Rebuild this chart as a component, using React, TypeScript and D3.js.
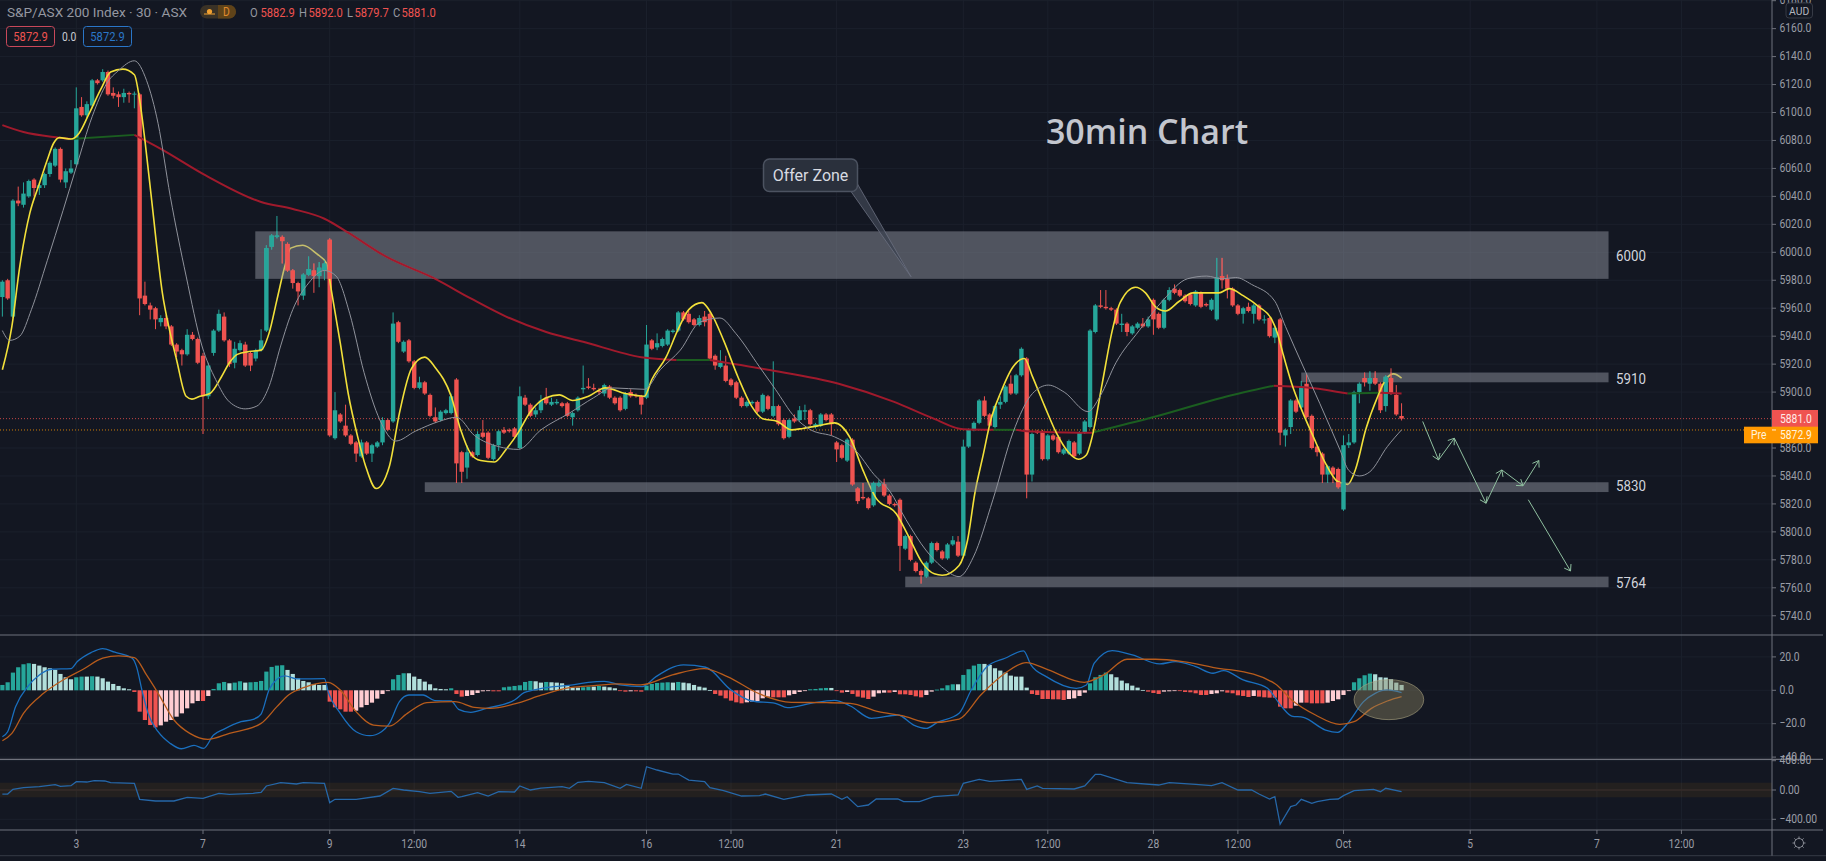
import React from "react";
import * as d3 from "d3";

const opens = [
5968,5980,5954,6037,6034,6040,6052,6046,6048,6056,
6062,6074,6050,6057,6063,6104,6098,6105,6123,6123,
6129,6114,6113,6111,6114,6113,6113,5969,5962,5960,
5950,5953,5947,5934,5930,5927,5941,5938,5926,5897,
5928,5944,5954,5937,5921,5930,5934,5928,5924,5930,
5944,6004,6011,6011,6006,5987,5978,5969,5984,5987,
5983,5987,6009,5867,5884,5876,5869,5864,5854,5864,
5856,5861,5864,5880,5879,5950,5929,5937,5922,5903,
5907,5898,5882,5880,5885,5885,5909,5857,5846,5857,
5855,5871,5871,5852,5862,5873,5873,5874,5860,5896,
5891,5884,5887,5896,5891,5892,5892,5892,5882,5887,
5902,5904,5903,5901,5899,5904,5896,5896,5888,5900,
5898,5897,5896,5937,5932,5933,5934,5943,5944,5957,
5956,5952,5948,5954,5956,5926,5918,5919,5909,5907,
5896,5890,5892,5893,5886,5897,5883,5890,5880,5868,
5881,5880,5886,5887,5875,5876,5884,5884,5864,5862,
5851,5866,5831,5825,5824,5819,5833,5834,5826,5820,
5823,5788,5797,5778,5772,5768,5778,5792,5786,5781,
5791,5793,5783,5861,5873,5878,5894,5884,5875,5891,
5893,5906,5899,5912,5924,5841,5872,5872,5852,5869,
5868,5856,5856,5864,5856,5871,5875,5943,5962,5961,
5960,5959,5948,5949,5942,5946,5949,5947,5966,5956,
5946,5966,5974,5973,5969,5970,5962,5971,5963,5959,
5952,5983,5981,5974,5962,5956,5961,5956,5962,5952,
5953,5939,5952,5869,5875,5894,5889,5906,5883,5861,
5856,5841,5846,5845,5816,5862,5864,5900,5910,5906,
5910,5906,5890,5910,5898,5882.9];

const closes = [
5979,5967,6037,6035,6042,6051,6046,6048,6056,6064,
6074,6052,6058,6060,6103,6098,6106,6123,6121,6129,
6113,6112,6111,6114,6113,6113.5,5967,5963,5959,5952,
5953,5947,5934,5929,5927,5941,5938,5921,5897,5919,
5944,5956,5937,5920,5931,5935,5919,5919,5930,5937,
6003,6012,6012,6008,5987,5978,5972,5984,5988,5983,
5989,5992,5869,5887,5879,5869,5863,5856,5864,5856,
5862,5864,5880,5873,5949,5936,5936,5922,5903,5907,
5899,5883,5879,5886,5887,5897,5849,5843,5857,5854,
5870,5868,5853,5862,5872,5871,5872,5868,5897,5891,
5883,5887,5894,5892,5893,5893,5890,5883,5885,5896,
5903,5903,5902,5900,5905,5896,5892,5887,5899,5897,
5897,5891,5934,5931,5935,5938,5944,5944,5957,5952,
5950,5948,5953,5950,5924,5919,5921,5908,5905,5896,
5890,5893,5893,5886,5898,5888,5890,5877,5867,5880,
5879,5887,5887,5877,5877,5884,5880,5877,5859,5853,
5866,5834,5822,5824,5817,5835,5835,5826,5820,5819,
5790,5797,5780,5772,5769,5778,5792,5787,5781,5791,
5794,5783,5861,5873,5878,5894,5883,5876,5890,5893,
5904,5899,5912,5931,5841,5870,5871,5852,5869,5866,
5857,5859,5865,5854,5871,5879,5944,5962,5961,5960,
5959,5949,5949,5943,5947,5949,5947,5952,5952,5946,
5966,5973,5971,5969,5965,5963,5972,5961,5962,5966,
5982,5980,5974,5962,5956,5960,5958,5962,5952,5952,
5940,5946,5871,5873,5894,5886,5904,5882,5860,5857,
5841,5847,5841,5832,5862,5864,5900,5906,5907,5910,
5906,5887,5911,5899,5884,5881];

const highs = [
5980,5981,6038,6047,6050,6052,6053,6050,6057,6065,
6075,6075,6060,6066,6118,6111,6108,6124,6124,6131,
6130,6118,6115,6117,6115,6115,6114,5979,5964,5961,
5955,5955,5948,5935,5931,5945,5943,5939,5928,5921,
5945,5959,5957,5938,5936,5937,5936,5929,5931,5945,
6005,6013,6026,6012,6007,5988,5979,5985,5997,5992,
5993,5994,6010,5900,5885,5891,5870,5865,5866,5865,
5863,5865,5882,5881,5957,5951,5937,5938,5923,5911,
5908,5899,5889,5887,5888,5899,5910,5858,5862,5858,
5872,5880,5872,5863,5873,5875,5874,5875,5904,5898,
5892,5889,5898,5903,5896,5895,5893,5893,5886,5897,
5919,5910,5906,5903,5906,5905,5897,5897,5900,5902,
5899,5898,5948,5938,5942,5939,5945,5945,5958,5958,
5958,5953,5955,5958,5957,5927,5930,5926,5910,5908,
5897,5894,5894,5894,5899,5898,5922,5891,5881,5881,
5884,5890,5891,5888,5878,5885,5885,5885,5865,5863,
5867,5867,5832,5835,5825,5836,5837,5838,5827,5821,
5824,5798,5798,5779,5773,5779,5793,5793,5787,5792,
5797,5797,5866,5874,5879,5895,5897,5885,5891,5897,
5905,5912,5913,5932,5925,5871,5873,5873,5870,5870,
5869,5860,5866,5865,5872,5880,5945,5963,5973,5973,
5961,5960,5956,5950,5948,5950,5953,5954,5967,5957,
5967,5975,5977,5974,5970,5971,5973,5972,5964,5967,
5996,5996,5984,5975,5963,5961,5964,5963,5963,5955,
5954,5947,5953,5874,5895,5895,5908,5913,5884,5862,
5857,5848,5847,5846,5869,5870,5901,5907,5914,5915,
5915,5907,5912,5917,5905,5892];

const lows = [
5954,5966,5953,6033,6032,6039,6040,6041,6046,6054,
6061,6050,6046,6056,6062,6097,6096,6103,6120,6122,
6112,6110,6104,6107,6107,6103,5955,5962,5952,5945,
5947,5945,5933,5925,5919,5926,5937,5920,5870,5895,
5926,5943,5936,5918,5917,5929,5918,5915,5922,5929,
5943,6002,6010,5992,5986,5974,5962,5966,5983,5971,
5975,5980,5868,5866,5878,5868,5862,5850,5853,5855,
5850,5860,5862,5872,5878,5935,5928,5921,5902,5902,
5898,5882,5878,5879,5884,5884,5835,5835,5838,5853,
5854,5867,5852,5851,5858,5870,5871,5867,5859,5890,
5882,5882,5885,5891,5890,5891,5889,5882,5876,5886,
5899,5902,5901,5898,5897,5895,5891,5886,5887,5896,
5896,5884,5895,5930,5930,5932,5933,5942,5943,5951,
5949,5947,5947,5947,5923,5916,5917,5907,5904,5895,
5889,5889,5891,5885,5885,5887,5882,5876,5866,5867,
5878,5879,5880,5876,5874,5875,5879,5869,5850,5852,
5850,5833,5820,5823,5816,5818,5832,5825,5819,5818,
5772,5787,5779,5771,5763,5767,5777,5786,5780,5780,
5790,5782,5782,5860,5872,5877,5882,5875,5874,5888,
5892,5898,5898,5911,5824,5836,5870,5851,5851,5865,
5856,5855,5855,5853,5855,5870,5874,5942,5960,5959,
5958,5948,5943,5940,5941,5945,5946,5946,5941,5945,
5945,5965,5970,5968,5964,5962,5961,5960,5961,5958,
5951,5974,5967,5961,5955,5949,5957,5949,5951,5949,
5939,5935,5862,5861,5870,5885,5888,5881,5859,5854,
5835,5835,5835,5831,5815,5860,5863,5892,5904,5901,
5905,5885,5886,5898,5883,5879.7];

const hist = [
3.2,4.8,10.6,13.8,15.6,16.2,15.8,14.8,13.8,13.2,
12.2,9.8,7.8,6.6,7.8,8.2,8.2,8.4,8.2,7.2,
5.2,3.8,2.6,1.2,0.6,-1,-12.8,-17.8,-20.8,-22.2,
-21,-18.8,-17.8,-15.8,-13.8,-10.8,-7.8,-6.4,-6.4,-3.4,
0.8,4.2,5,4.2,4.6,5.4,4.6,4.8,5,5.6,
11.2,14,14.8,15,12.2,9.8,7.2,5.6,4.8,3.8,
3.2,3.2,-6.8,-10.2,-11.4,-12.8,-12.8,-12.2,-10.2,-8.8,
-7.4,-5,-2.2,-0.4,6.6,9.2,10.2,10.2,8.2,6.8,
5.2,3.6,1.2,0.8,0.6,1.2,-2.2,-3.8,-3.4,-2.8,
-1.6,-0.6,-0.4,-0.6,-0.6,1.8,2.2,2.6,3,5,
5.6,5.4,4.6,5,4.8,4.6,4.2,3.2,1.6,1.6,
1.8,2.2,2.2,2.6,2.2,1.8,1.2,-0.2,-0.8,-0.6,
-0.6,-0.8,2.8,3.8,4.4,4.6,4.8,4.6,5,4.6,
4.2,3.2,2.2,1.6,0.2,-2.2,-3.2,-4.8,-6.2,-7.2,
-7.8,-7.2,-6.8,-6.4,-4.8,-3.8,-4.2,-4.2,-4.2,-3,
-2.2,-1,-0.4,0.6,0.8,1.2,1.4,1.4,-0.4,-1.4,
-1,-2.2,-3.8,-4.4,-5.2,-3.8,-1.8,-1.4,-1.4,-1,
-2.4,-2.4,-2.8,-3.6,-4.2,-2.8,-0.8,0.4,1.2,3,
3.6,3.6,9.2,12.6,14.8,15.8,15.8,15.2,13.2,11.8,
10.6,8.8,8.2,8.2,1.6,-2.2,-2.8,-5.2,-5.2,-5.4,
-5.4,-5.8,-5.2,-4.8,-3.4,-1.4,4.2,7.8,9.2,10.6,
9.6,7.8,5.8,4.2,2.8,1.6,0.2,-0.8,-1.6,-2.2,
-0.8,-0.6,-0.2,-0.4,-1,-1.2,-1.8,-2.8,-2.8,-2.2,
-1.8,-0.6,-1.4,-1.8,-3,-3.4,-4,-3.4,-3.8,-4.2,
-4.4,-4.4,-9.8,-10.8,-10.8,-9.2,-7.4,-7.4,-7.8,-7.8,
-7.8,-7.4,-6.4,-5.4,-2.8,-0.2,4.8,7.2,9,10,
9.6,7.8,7.6,6.6,4.6,3.2];

const yellowK = [0,1.8,3.3,5.2,7,8.5,9.7,10.8,13,14.5,16.4,18.7,20.5,22.8,25,26,27,28.4,30.3,31.8,33,34.8,35.9,37.4,39.3,41.5,43,44.5,46.7,49,50.5,52,53.5,54.6,56.9,59.5,61.4,62.3,64,65.5,67.3,68.8,70.8,73.3,75.2,77.5,80,81.9,85,86.8,88.7,90.6,93.2,95.4,97.7,100,103,105.5,108,111,114.2,118,121.6,123,125.7,128,130,132.5,134.3,136.6,139.3,141.9,144,146.8,149.4,151.6,154.6,157.6,160.6,163,165.5,169.3,171.6,174.2,176.5,178,181.2,182.8,184.2,185.7,187.2,189,191.4,193.6,195,197.4,199.6,201.9,203.8,205.3,206.4,208.3,210.2,211.7,214.6,216.5,218.4,220.3,222.9,225.5,228,230.4,232.4,235,238,240.4,241.5,242.5,244.2,246,248.3,250.6,252.9,254.8,256.3,258.2,260.5,262,263.5,265];
const yellowV = [5916,5947,5990,6028,6049,6066,6078,6082,6081,6085,6099,6117,6129,6131,6127,6109,6080,6033,5971,5942,5923,5897,5895,5897,5899,5911,5921,5927,5929,5930,5942,5966,5990,6003,6005,5999,5992,5973,5935,5899,5868,5847,5831,5847,5885,5917,5925,5918,5897,5873,5856,5851,5850,5859,5871,5886,5896,5898,5894,5897,5903,5899,5897,5909,5925,5945,5959,5964,5956,5937,5911,5890,5881,5879,5873,5874,5876,5878,5867,5844,5824,5813,5797,5778,5770,5769,5776,5794,5828,5854,5880,5899,5918,5924,5912,5890,5871,5857,5852,5855,5868,5906,5944,5964,5975,5971,5961,5958,5965,5971,5971,5971,5974,5969,5961,5952,5942,5928,5906,5888,5868,5849,5836,5834,5845,5873,5897,5909,5913,5910];

const greyK = [0,1.4,3.3,5.5,8.5,11.5,14,17,19.8,22,25,27.3,29.5,31.8,34.8,37.8,40.4,43,46,48.2,50.5,52.7,55,58,61,63.2,65.8,68.5,71.5,74.5,78.2,82.7,86,89.4,94,97.7,102,107.4,112,115.6,121.6,124.6,128.4,132.1,135.9,138.9,143.4,146.4,150.1,153.1,157.6,161.4,165.1,168.1,171.1,174.9,177.9,181.2,183.9,187.6,191.4,195.1,198.1,201.1,205.6,207.9,210.9,215.3,219.9,224.4,228.1,231,233.6,236.6,241,243,246.4,249.5,253.3,255,257,259,262.3,265];
const greyV = [5944,5937,5940,5959,5994,6030,6061,6097,6121,6130,6137,6123,6092,6040,5983,5933,5909,5893,5888,5890,5904,5933,5959,5978,5987,5983,5956,5914,5880,5865,5872,5879,5882,5869,5861,5859,5873,5885,5896,5903,5902,5916,5930,5950,5953,5942,5918,5902,5882,5873,5868,5859,5841,5829,5809,5787,5775,5768,5782,5823,5871,5899,5905,5900,5886,5897,5921,5944,5966,5981,5983,5981,5982,5977,5965,5947,5918,5892,5859,5844,5840,5843,5861,5873];

const maK = [0,4,10.8,13,25,30,38.5,49,55,61,65.5,72.6,82,88.7,95.4,103,110,121,127.7,134,145,158.4,168.9,176.4,182,187.7,192,194,204,206.4,218.4,231,240.8,248,254.8,261,265];
const maV = [6091,6086,6082,6081,6084,6074,6055,6036,6031,6024,6014,5997,5981,5967,5954,5943,5936,5925,5923,5923,5916,5906,5893,5881,5873.4,5873,5873,5872,5871,5871,5882.5,5896,5904.6,5903,5899,5899.6,5899];
const maGreen = [[13,25],[127.7,134],[187.7,192],[206.4,240.8],[254.8,261]];

const macdK = [0,1,2.5,4.8,7,9.3,13,14.2,16.8,19,21.3,24.6,25.4,26.5,27.6,29.5,31.8,33.9,36.3,38.1,40,41.9,45.2,47.5,49,50.5,52,53.5,55.8,61,61.7,64,67,69.6,71.8,73.3,75.2,77,79.7,81.9,85,86.4,88.7,91.7,97,98.8,100.7,104.4,108,111,114,117,121.2,123.8,129,133.2,138,141.9,146.4,148.7,153.1,157.6,160.6,164.6,169.6,172.6,175,177,181.2,183.5,186.5,189.9,193.4,194.8,197.7,203.4,205.3,206.8,210.2,214,219.2,222.2,226,229.3,231.3,235,239.6,242.3,244.2,246.4,250.6,252.9,254.8,257.8,260,262.3,265];
const macdV = [-27.8,-24.8,-9.8,2.2,9.2,12.6,13,17.2,22.6,25,22.8,19.2,14.2,-0.8,-13.8,-24.8,-31.8,-35,-33,-34.8,-26.8,-23.4,-18.8,-17.4,-14.2,0.2,6.6,8.6,6.8,7,-0.8,-13.8,-24.8,-27.2,-24.8,-19.8,-6.8,-2.8,-2.8,-6.2,-6.4,-11.4,-13.2,-10.8,-5.8,-1.4,0.2,2.2,3.2,4.8,5.4,3.2,2.2,8.2,15.2,13.8,0.2,-6.4,-7.8,-10.4,-7.8,-6,-9.4,-16.8,-14.8,-20.8,-22.8,-19.4,-13.8,0.2,14.2,19.2,23.6,15.2,8.2,1.2,3.2,16.2,23.8,21.2,15.8,17.2,14.2,10.2,11.8,6.2,1.2,-9.8,-15.4,-16.2,-23.8,-25.2,-19.8,-6.8,-1.8,0.2,-1.4];

const signalK = [0,1.8,4,7.8,11.5,15.3,19,22,25,27.3,29.5,32.5,35.5,38.9,43,49,52,54.2,57.2,61.7,64,67,70.3,73.3,76.7,80.4,85.7,89.4,92.4,97,102.2,106.7,112,117,120.9,126.9,132.9,137.3,143.4,149.4,156.1,160.6,165.9,170.4,175.6,181.2,185.3,189.9,193.9,198.1,204.9,208.6,213,218.4,223.6,231,232.8,241.1,244.2,248.7,253.3,256,259.3,262.3,265];
const signalV = [-30.2,-25.8,-13.8,-1.8,6.2,12.6,19.2,20.6,19.6,9.2,-1.8,-17.8,-25.8,-29.4,-25.8,-19.8,-9.8,-2.8,1.8,4.8,0.2,-12.8,-20.8,-21.4,-13.8,-7.4,-6.8,-10.2,-10.8,-8.2,-2.8,1.2,2.8,3.8,3.2,9.2,13,8.2,-2.2,-7.2,-7.4,-7.8,-12.8,-15.2,-19.4,-17.2,-2.8,10.2,16.6,12.2,4.8,9.2,18.6,18.6,17.2,12.8,12.2,3.8,-5.8,-14.8,-20.4,-18.8,-10.8,-6.4,-3.8];

const cciK = [0,1,2,4,7,10,11,13,14,16,17.4,19.4,20.5,25,26,29,32.5,35,38,41,43,47.5,49,50,52.7,55.7,57,61,62,63,67,71.5,74,76,79,81,85,86.3,87,90,92,94,97,98,100,102,106,107.4,109,111,114,117,118.2,121,122,124,127,128,130,133,134,136.6,140,143.4,144.5,148,152.4,157,159,160,162,164,165.5,169.6,170.7,173.7,176.4,181,182,185,187,193,194,196,197,203,205,207,208,213,219,221,226,229,231,234,236.6,238,240,241,242,244,245,246,248,249,251.4,253,254,256,259.7,261,262,265];
const cciV = [-55,-55,9,32,45,73,50,59,114,109,127,123,100,91,-127,-150,-150,-100,-114,-45,-59,-45,-32,55,100,82,100,91,-173,-127,-127,-82,23,0,-23,-45,-18,-100,-91,-36,-82,-23,-27,55,0,27,45,23,105,118,100,23,77,23,318,273,218,218,136,114,32,-9,-82,-77,-55,-127,-68,-55,-127,-91,-227,-205,-123,-123,-159,-159,-91,-68,91,145,118,145,9,55,23,14,55,214,214,100,68,100,77,59,100,0,0,-55,-123,-91,-468,-227,-205,-127,-182,-159,-127,-123,-77,-9,9,-23,23,-23];

const priceTicks = [6180,6160,6140,6120,6100,6080,6060,6040,6020,6000,5980,5960,5940,5920,5900,5860,5840,5820,5800,5780,5760,5740];
const macdTicks = [20,0,-20,-40];
const macdTickLabels = ["20.0","0.0","−20.0","−40.0"];
const cciTicks = [400,0,-400];
const cciTickLabels = ["400.00","0.00","−400.00"];
const timeK = [14,38,62,78,98,122,138,158,182,198,218,234,254,278,302,318];
const timeLabels = ["3","7","9","12:00","14","16","12:00","21","23","12:00","28","12:00","Oct","5","7","12:00"];

const zones = [
  { from: 47.9, to: 304.2, top: 6015, bottom: 5981 },
  { from: 246, to: 304.2, top: 5914, bottom: 5907 },
  { from: 80, to: 304.2, top: 5835.5, bottom: 5828.5 },
  { from: 171, to: 304.2, top: 5768, bottom: 5760.4 },
];
const zoneLabels = [
  { text: "6000", price: 5997 },
  { text: "5910", price: 5909 },
  { text: "5830", price: 5832.5 },
  { text: "5764", price: 5763.5 },
];
const pathK = [[269,272,275],[275,281,284,288,291],[289,297]];
const pathV = [[5879,5851.5,5867],[5867,5820.5,5844.3,5833,5851],[5823,5772]];

const W = 1826, H = 861;
const AXIS_X = 1772, PANE1 = 635, PANE2 = 759.3, PANE3 = 830, BOTTOM = 855.7;
const BG = "#131722", GRID = "#1b202c", TEAL = "#26a69a", RED = "#ef5350";
const FONT = "Roboto, 'Open Sans', sans-serif";

const x = d3.scaleLinear().domain([0, 265]).range([2.37, 2.37 + 5.28 * 265]);
const y = d3.scaleLinear().domain([6000, 5760]).range([252.3, 587.8]);
const ym = d3.scaleLinear().domain([0, -20]).range([690.3, 723.7]);
const yc = d3.scaleLinear().domain([0, 400]).range([790, 760.7]);

function T(props: any) {
  const { x: tx, y: ty, sx = 0.86, children, ...rest } = props;
  return (
    <text transform={`translate(${tx},${ty}) scale(${sx},1)`} fontFamily={FONT} dominantBaseline="central" {...rest}>
      {children}
    </text>
  );
}

function linePath(ks: number[], vs: number[], ys: any, curve: any = d3.curveMonotoneX) {
  const idx = d3.range(ks.length);
  return d3.line<number>().x((i) => x(ks[i])).y((i) => ys(vs[i])).curve(curve)(idx) as string;
}

function maGroups() {
  const groups: { green: boolean; ks: number[]; vs: number[] }[] = [];
  for (let i = 0; i < maK.length - 1; i++) {
    const mid = (maK[i] + maK[i + 1]) / 2;
    const green = maGreen.some(([a, b]) => mid >= a && mid <= b);
    const last = groups[groups.length - 1];
    if (last && last.green === green) {
      last.ks.push(maK[i + 1]);
      last.vs.push(maV[i + 1]);
    } else {
      groups.push({ green, ks: [maK[i], maK[i + 1]], vs: [maV[i], maV[i + 1]] });
    }
  }
  return groups;
}

function histColor(i: number) {
  const prev = i > 0 ? hist[i - 1] : 0;
  const v = hist[i];
  if (v >= 0) return prev < v ? "#26a69a" : "#b2dfdb";
  return prev < v ? "#ffcdd2" : "#ef5350";
}

function Candles() {
  return (
    <g>
      {opens.map((o, i) => {
        const c = closes[i];
        const col = c >= o ? TEAL : RED;
        const top = y(Math.max(o, c));
        const bot = y(Math.min(o, c));
        return (
          <g key={i}>
            <line x1={x(i)} x2={x(i)} y1={y(highs[i])} y2={y(lows[i])} stroke={col} />
            <rect x={x(i) - 2.2} width={4.4} y={top} height={Math.max(1, bot - top)} fill={col} />
          </g>
        );
      })}
    </g>
  );
}

function MovingAverage() {
  return (
    <g>
      {maGroups().map((g, i) => (
        <path key={i} d={linePath(g.ks, g.vs, y)} fill="none" stroke={g.green ? "#1b5e20" : "#a01a2c"} strokeWidth={2} />
      ))}
    </g>
  );
}

export default function App() {
  const arrowColor = "#8fbf9f";
  return (
    <svg width={W} height={H} style={{ position: "fixed", left: 0, top: 0, background: BG, display: "block" }}>
      <style>{"body{margin:0;overflow:hidden;background:#131722}"}</style>
      <defs>
        <clipPath id="zoneClip">
          {zones.map((z, i) => (
            <rect key={i} x={x(z.from)} width={x(z.to) - x(z.from)} y={y(z.top)} height={y(z.bottom) - y(z.top)} />
          ))}
        </clipPath>
      </defs>
      <rect width={W} height={H} fill={BG} />

      {/* grid */}
      {priceTicks.map((p) => <line key={p} x1={0} x2={AXIS_X} y1={y(p)} y2={y(p)} stroke={GRID} />)}
      {macdTicks.map((p) => <line key={p} x1={0} x2={AXIS_X} y1={ym(p)} y2={ym(p)} stroke={GRID} />)}
      {cciTicks.map((p) => <line key={p} x1={0} x2={AXIS_X} y1={yc(p)} y2={yc(p)} stroke={GRID} />)}
      {timeK.map((k) => <line key={k} x1={x(k)} x2={x(k)} y1={0} y2={PANE3} stroke={GRID} />)}

      {/* CCI band */}
      <rect x={0} width={AXIS_X} y={yc(100)} height={yc(-100) - yc(100)} fill="#ff9800" opacity={0.07} />
      <line x1={0} x2={AXIS_X} y1={yc(0)} y2={yc(0)} stroke="#3a2c28" />

      {/* last price lines */}
      <line x1={0} x2={AXIS_X} y1={y(5881)} y2={y(5881)} stroke="#ef5350" strokeDasharray="1 2" opacity={0.8} />
      <line x1={0} x2={AXIS_X} y1={y(5872.9)} y2={y(5872.9)} stroke="#ff9800" strokeDasharray="1 2" opacity={0.8} />

      <Candles />
      <MovingAverage />
      <path d={linePath(yellowK, yellowV, y)} fill="none" stroke="#f2e03a" strokeWidth={1.6} />

      {/* translucent zones over the yellow line; candles and the long average stay bright inside them */}
      {zones.map((z, i) => (
        <rect key={i} x={x(z.from)} width={x(z.to) - x(z.from)} y={y(z.top)} height={y(z.bottom) - y(z.top)} fill="#969aa4" fillOpacity={0.466} />
      ))}
      <g clipPath="url(#zoneClip)">
        <Candles />
        <MovingAverage />
      </g>
      <path d={linePath(greyK, greyV, y)} fill="none" stroke="#8f929b" strokeWidth={1} />

      {zoneLabels.map((l) => (
        <T key={l.text} x={1616} y={y(l.price)} fontSize={15.5} fill="#d1d4dc">{l.text}</T>
      ))}

      {/* arrows */}
      {pathK.map((ks, pi) => {
        const vs = pathV[pi];
        return (
          <g key={pi} fill="none" stroke={arrowColor} strokeWidth={1}>
            <path d={linePath(ks, vs, y, d3.curveLinear)} />
            {ks.slice(1).map((k, j) => {
              const ax = x(k), ay = y(vs[j + 1]);
              const a = Math.atan2(ay - y(vs[j]), ax - x(ks[j]));
              const s = 7;
              const p1 = [ax - s * Math.cos(a - 0.6), ay - s * Math.sin(a - 0.6)];
              const p2 = [ax - s * Math.cos(a + 0.6), ay - s * Math.sin(a + 0.6)];
              return <path key={j} d={`M${p1[0]},${p1[1]}L${ax},${ay}L${p2[0]},${p2[1]}`} />;
            })}
          </g>
        );
      })}

      {/* callout */}
      <path
        d={`M${851},${191.5}L${x(172.1)},${y(5982.5)}L${857.5},${184}Z`}
        fill="#3c4250" fillOpacity={0.8} stroke="#6b7080" strokeWidth={0.8}
      />
      <rect x={763.5} y={159} width={94} height={32.5} rx={6} fill="#2a303c" stroke="#4c5361" strokeWidth={1.5} />
      <T x={810.5} y={175} sx={1} textAnchor="middle" fontSize={16} fill="#d8dbe2">Offer Zone</T>
      <T x={1147} y={131} sx={1} textAnchor="middle" fontSize={34} fontWeight={600} fill="#c3c6ce" style={{ fontFamily: "'Open Sans', sans-serif" }}>30min Chart</T>

      {/* MACD */}
      {hist.map((v, i) => (
        <rect key={i} x={x(i) - 2.1} width={4.2} y={Math.min(ym(v), ym(0))} height={Math.max(0.8, Math.abs(ym(v) - ym(0)))} fill={histColor(i)} />
      ))}
      <path d={linePath(macdK, macdV, ym)} fill="none" stroke="#1a6fbe" strokeWidth={1.3} />
      <path d={linePath(signalK, signalV, ym)} fill="none" stroke="#b85c1c" strokeWidth={1.3} />
      <ellipse cx={x(262.6)} cy={ym(-5.6)} rx={x(6.6) - x(0)} ry={20} fill="#8d8665" fillOpacity={0.42} stroke="#a9a27e" strokeOpacity={0.6} />

      {/* CCI */}
      <path d={linePath(cciK, cciV, yc, d3.curveLinear)} fill="none" stroke="#2667a8" strokeWidth={1.3} />

      {/* pane separators */}
      <rect x={AXIS_X} y={0} width={W - AXIS_X} height={H} fill={BG} />
      {[PANE1, PANE2, PANE3].map((py) => <line key={py} x1={0} x2={W - 3} y1={py} y2={py} stroke="#6f727c" strokeWidth={1.2} />)}
      <line x1={0} x2={W} y1={BOTTOM} y2={BOTTOM} stroke="#363a45" />
      <line x1={AXIS_X} x2={AXIS_X} y1={0} y2={BOTTOM} stroke="#6f727c" />

      {/* axes */}
      {priceTicks.map((p) => (
        <g key={p}>
          <line x1={AXIS_X} x2={AXIS_X + 4} y1={y(p)} y2={y(p)} stroke="#6f727c" />
          <T x={1779.5} y={y(p)} fontSize={12} fill="#9a9da6">{p.toFixed(1)}</T>
        </g>
      ))}
      {macdTicks.map((p, i) => (
        <g key={p}>
          <line x1={AXIS_X} x2={AXIS_X + 4} y1={ym(p)} y2={ym(p)} stroke="#6f727c" />
          <T x={1779.5} y={ym(p)} fontSize={12} fill="#9a9da6">{macdTickLabels[i]}</T>
        </g>
      ))}
      {cciTicks.map((p, i) => (
        <g key={p}>
          <line x1={AXIS_X} x2={AXIS_X + 4} y1={yc(p)} y2={yc(p)} stroke="#6f727c" />
          <T x={1779.5} y={yc(p)} fontSize={12} fill="#9a9da6">{cciTickLabels[i]}</T>
        </g>
      ))}
      {timeK.map((k, i) => (
        <g key={k}>
          <line x1={x(k)} x2={x(k)} y1={PANE3} y2={PANE3 + 4} stroke="#6f727c" />
          <T x={x(k)} y={844} textAnchor="middle" fontSize={12} fill="#9a9da6">{timeLabels[i]}</T>
        </g>
      ))}

      {/* AUD box */}
      <rect x={1786} y={3} width={26.5} height={15} rx={3} fill={BG} stroke="#363a45" />
      <T x={1799.2} y={11} sx={0.9} textAnchor="middle" fontSize={11.5} fill="#b2b5be">AUD</T>

      {/* last price labels */}
      <rect x={1772} y={410} width={46} height={17} fill={RED} />
      <T x={1780} y={419} fontSize={12} fill="#ffe9e6">5881.0</T>
      <rect x={1744} y={426.7} width={74} height={16.6} fill="#ff9800" />
      <T x={1751} y={435} fontSize={12} fill="#fff3dd">Pre</T>
      <line x1={1772} x2={1776} y1={y(5872.9)} y2={y(5872.9)} stroke="#fff3dd" />
      <T x={1780} y={435} fontSize={12} fill="#fff3dd">5872.9</T>

      {/* gear */}
      <g stroke="#8a8d96" strokeWidth={1} fill="none">
        <circle cx={1799} cy={843} r={4.5} />
        {d3.range(8).map((i) => {
          const a = (i * Math.PI) / 4;
          return <line key={i} x1={1799 + 4.5 * Math.cos(a)} y1={843 + 4.5 * Math.sin(a)} x2={1799 + 6.5 * Math.cos(a)} y2={843 + 6.5 * Math.sin(a)} />;
        })}
      </g>

      {/* legend */}
      <T x={7} y={11.5} sx={1} fontSize={13.6} fill="#9598a1">S&amp;P/ASX 200 Index · 30 · ASX</T>
      <rect x={200} y={5} width={36} height={13.5} rx={6.7} fill="#3a3226" />
      <path d="M218,5h11.3a6.7,6.7 0 0 1 0,13.5h-11.3z" fill="#5f4319" />
      <circle cx={209.5} cy={11.5} r={2.6} fill="#f0a030" />
      <line x1={204} x2={215} y1={14} y2={14} stroke="#f0a030" />
      <T x={226.5} y={11.8} textAnchor="middle" fontSize={12} fill="#e08a2c">D</T>
      <T x={250} y={12.7} fontSize={13} fill="#9598a1">O</T>
      <T x={260.5} y={12.7} fontSize={13} fill={RED}>5882.9</T>
      <T x={299} y={12.7} fontSize={13} fill="#9598a1">H</T>
      <T x={308.5} y={12.7} fontSize={13} fill={RED}>5892.0</T>
      <T x={347} y={12.7} fontSize={13} fill="#9598a1">L</T>
      <T x={354.5} y={12.7} fontSize={13} fill={RED}>5879.7</T>
      <T x={393} y={12.7} fontSize={13} fill="#9598a1">C</T>
      <T x={401.5} y={12.7} fontSize={13} fill={RED}>5881.0</T>

      <rect x={6.5} y={26.5} width={48} height={20} rx={3} fill="none" stroke="#c9485a" />
      <T x={30.5} y={36.5} textAnchor="middle" fontSize={13} fill={RED}>5872.9</T>
      <T x={62} y={37} fontSize={12} fill="#c8cbd3">0.0</T>
      <rect x={83.5} y={26.5} width={48} height={20} rx={3} fill="none" stroke="#2a76c8" />
      <T x={107.5} y={36.5} textAnchor="middle" fontSize={13} fill="#2a76c8">5872.9</T>
    </svg>
  );
}
